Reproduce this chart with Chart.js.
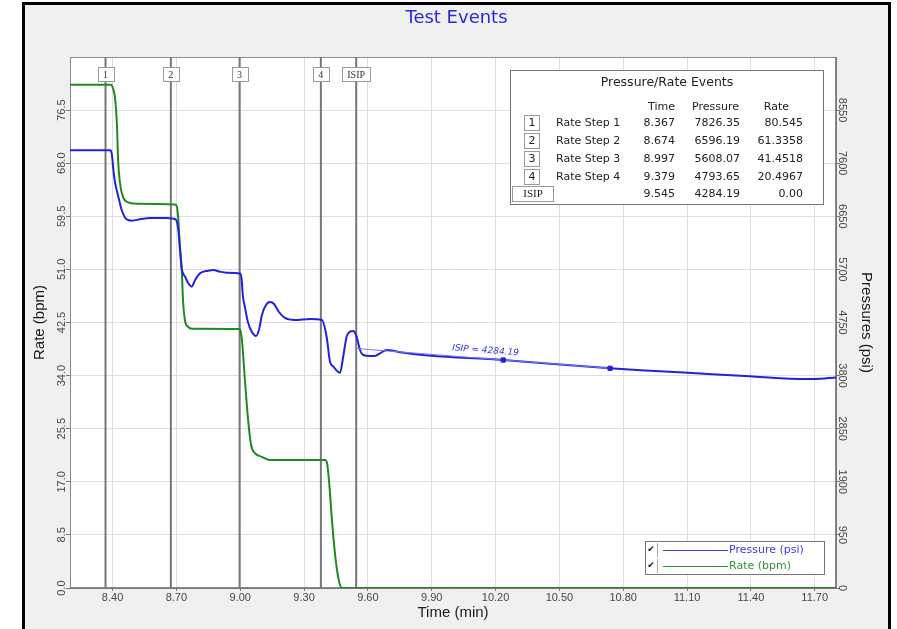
<!DOCTYPE html>
<html>
<head>
<meta charset="utf-8">
<script src="https://cdn.jsdelivr.net/npm/chart.js@4.4.0/dist/chart.umd.min.js"></script>
<style>
  html, body { margin: 0; padding: 0; background: #fff; overflow: hidden; }
  #frame { position: absolute; left: 22px; top: 2px; width: 863px; height: 700px; border: 3px solid #000; background: #f0f0f0; }
  #chart { position: absolute; left: 0; top: 0; }
</style>
</head>
<body>
<div id="frame"></div>
<canvas id="chart" width="897" height="629"></canvas>
<script>
// rate (bpm) trace
const rateTime = [8.200, 8.393, 8.402, 8.411, 8.421, 8.426, 8.435, 8.449, 8.468, 8.515,
  8.693, 8.703, 8.708, 8.717, 8.726, 8.731, 8.740, 8.755, 8.773, 8.999,
  9.008, 9.022, 9.037, 9.051, 9.069, 9.102, 9.140, 9.398, 9.408, 9.417,
  9.431, 9.445, 9.460, 9.478, 11.800];
const rateValue = [80.55, 80.55, 80.0, 78.6, 73.8, 68.5, 64.8, 62.6, 61.8, 61.5,
  61.4, 61.0, 59.4, 54.6, 50.4, 46.1, 42.9, 41.8, 41.5, 41.45,
  39.7, 33.3, 26.9, 22.9, 21.6, 21.0, 20.5, 20.5, 20.0, 17.3,
  10.9, 5.6, 1.8, 0, 0];

// pressure (psi) trace
const pressTime = [8.200, 8.390, 8.397, 8.404, 8.411, 8.427, 8.443, 8.466, 8.490, 8.529,
  8.576, 8.654, 8.686, 8.701, 8.709, 8.717, 8.725, 8.741, 8.756, 8.772,
  8.788, 8.811, 8.850, 8.874, 8.905, 8.936, 8.999, 9.007, 9.012, 9.022,
  9.036, 9.055, 9.074, 9.088, 9.102, 9.121, 9.140, 9.159, 9.182, 9.210,
  9.257, 9.328, 9.384, 9.406, 9.422, 9.438, 9.469, 9.484, 9.500, 9.516,
  9.531, 9.547, 9.563, 9.578, 9.610, 9.633, 9.657, 9.688, 9.719, 9.751,
  10.236, 10.738, 10.926, 11.161, 11.396, 11.584, 11.701, 11.800];
const pressValue = [7830, 7830, 7750, 7478, 7270, 7001, 6763, 6596, 6572, 6596,
  6620, 6620, 6607, 6572, 6405, 6047, 5720, 5570, 5451, 5391,
  5510, 5630, 5677, 5689, 5659, 5641, 5625, 5510, 5242, 5027,
  4759, 4580, 4509, 4616, 4884, 5063, 5117, 5081, 4938, 4831,
  4795, 4813, 4795, 4496, 4049, 3959, 3852, 4138, 4496, 4586,
  4598, 4496, 4258, 4169, 4151, 4151, 4199, 4258, 4246, 4217,
  4079, 3931, 3888, 3838, 3788, 3743, 3739, 3766];

// ISIP tangent line
const isipLineTime = [9.545, 10.236, 10.738];
const isipLinePress = [4284.19, 4079, 3931];

// events
const eventTag = ['1', '2', '3', '4', 'ISIP'];
const eventName = ['Rate Step 1', 'Rate Step 2', 'Rate Step 3', 'Rate Step 4', ''];
const eventTime = [8.367, 8.674, 8.997, 9.379, 9.545];
const eventPressure = [7826.35, 6596.19, 5608.07, 4793.65, 4284.19];
const eventRate = ['80.545', '61.3358', '41.4518', '20.4967', '0.00'];

// ticks
const timeTicks = [8.40, 8.70, 9.00, 9.30, 9.60, 9.90, 10.20, 10.50, 10.80, 11.10, 11.40, 11.70];
const rateTicks = [0, 8.5, 17, 25.5, 34, 42.5, 51, 59.5, 68, 76.5];
const pressTicks = [0, 950, 1900, 2850, 3800, 4750, 5700, 6650, 7600, 8550];

const BLUE = '#2222dd';
const GREEN = '#1f8a1f';
const tickFont = { family: 'Liberation Sans', size: 11 };
const titleFont = { family: 'Liberation Sans', size: 15 };

const toXY = (xs, ys) => xs.map((t, i) => ({ x: t, y: ys[i] }));

const extras = {
  id: 'extras',
  beforeDraw(chart) {
    const { ctx, chartArea: a } = chart;
    ctx.save();
    ctx.fillStyle = '#fff';
    ctx.fillRect(a.left, a.top, a.right - a.left, a.bottom - a.top);
    ctx.restore();
  },
  beforeDatasetsDraw(chart) {
    const { ctx, chartArea: a, scales: { x } } = chart;
    ctx.save();
    ctx.strokeStyle = '#8a8a8a';
    ctx.lineWidth = 1;
    ctx.strokeRect(a.left + 0.5, a.top + 0.5, a.right - a.left - 1, a.bottom - a.top - 1);
    ctx.strokeStyle = '#767676';
    ctx.lineWidth = 2;
    eventTime.forEach(t => {
      const px = x.getPixelForValue(t);
      ctx.beginPath();
      ctx.moveTo(px, a.top);
      ctx.lineTo(px, a.bottom);
      ctx.stroke();
    });
    ctx.restore();
  },
  afterDatasetsDraw(chart) {
    const { ctx, scales: { x, yP } } = chart;
    ctx.save();
    // event tags
    ctx.font = '10px "Liberation Serif"';
    ctx.textAlign = 'center';
    ctx.textBaseline = 'middle';
    eventTag.forEach((tag, i) => {
      const px = x.getPixelForValue(eventTime[i]);
      const w = tag.length > 1 ? 28 : 16;
      ctx.fillStyle = '#fff';
      ctx.fillRect(px - w / 2, 67, w, 15);
      ctx.strokeStyle = '#9a9a9a';
      ctx.lineWidth = 1;
      ctx.strokeRect(Math.round(px - w / 2) + 0.5, 67.5, w, 14);
      ctx.fillStyle = '#333';
      ctx.fillText(tag, px, 75);
    });
    // ISIP label along the tangent line
    const x1 = x.getPixelForValue(isipLineTime[0]), y1 = yP.getPixelForValue(isipLinePress[0]);
    const n = isipLineTime.length - 1;
    const x2 = x.getPixelForValue(isipLineTime[n]), y2 = yP.getPixelForValue(isipLinePress[n]);
    const ang = Math.atan2(y2 - y1, x2 - x1);
    const lx = x.getPixelForValue(10.15);
    const ly = y1 + (lx - x1) * Math.tan(ang);
    ctx.translate(lx + 8 * Math.sin(ang), ly - 8 * Math.cos(ang));
    ctx.rotate(ang);
    ctx.font = 'italic 9px "DejaVu Sans"';
    ctx.fillStyle = '#3434d4';
    ctx.fillText('ISIP = ' + eventPressure[4].toFixed(2), 0, 0);
    ctx.restore();
  },
  afterDraw(chart) {
    const { ctx } = chart;
    ctx.save();
    // events table
    ctx.fillStyle = '#fff';
    ctx.fillRect(510, 70, 313, 134);
    ctx.strokeStyle = '#777';
    ctx.lineWidth = 1;
    ctx.strokeRect(510.5, 70.5, 313, 134);
    ctx.fillStyle = '#222';
    ctx.textBaseline = 'middle';
    ctx.font = '12.5px "DejaVu Sans"';
    ctx.textAlign = 'center';
    ctx.fillText('Pressure/Rate Events', 667, 83);
    ctx.font = '11px "DejaVu Sans"';
    ctx.textAlign = 'right';
    ctx.fillText('Time', 675, 107);
    ctx.fillText('Pressure', 739, 107);
    ctx.fillText('Rate', 789, 107);
    const rowY = [123, 141, 159, 177, 194];
    eventTag.forEach((tag, i) => {
      const y = rowY[i];
      const bx = tag.length > 1 ? 512 : 524;
      const bw = tag.length > 1 ? 41 : 15;
      ctx.strokeStyle = '#999';
      ctx.strokeRect(bx + 0.5, y - 7.5, bw, 15);
      ctx.fillStyle = '#222';
      ctx.textAlign = 'center';
      ctx.font = tag.length > 1 ? '11px "Liberation Serif"' : '11px "DejaVu Sans"';
      ctx.fillText(tag, bx + bw / 2 + 0.5, y);
      ctx.font = '11px "DejaVu Sans"';
      ctx.textAlign = 'left';
      ctx.fillText(eventName[i], 556, y);
      ctx.textAlign = 'right';
      ctx.fillText(eventTime[i].toFixed(3), 675, y);
      ctx.fillText(eventPressure[i].toFixed(2), 740, y);
      ctx.fillText(eventRate[i], 803, y);
    });
    // legend
    ctx.fillStyle = '#fff';
    ctx.fillRect(645, 541, 179, 33);
    ctx.strokeStyle = '#777';
    ctx.strokeRect(645.5, 541.5, 179, 33);
    const legend = [['Pressure (psi)', '#3b3bdd', 550], ['Rate (bpm)', '#2b962b', 566]];
    legend.forEach(([label, color, y]) => {
      ctx.fillStyle = '#111';
      ctx.font = 'bold 9px "DejaVu Sans"';
      ctx.textAlign = 'center';
      ctx.fillText('\u2714', 651, y);
      ctx.strokeStyle = '#aaa';
      ctx.beginPath();
      ctx.moveTo(657.5, y - 7);
      ctx.lineTo(657.5, y + 7);
      ctx.stroke();
      ctx.strokeStyle = color;
      ctx.beginPath();
      ctx.moveTo(663, y + 0.5);
      ctx.lineTo(728, y + 0.5);
      ctx.stroke();
      ctx.fillStyle = color;
      ctx.font = '11px "DejaVu Sans"';
      ctx.textAlign = 'left';
      ctx.fillText(label, 729, y);
    });
    ctx.restore();
  }
};

new Chart(document.getElementById('chart'), {
  type: 'line',
  data: {
    datasets: [
      {
        label: 'Pressure (psi)', data: toXY(pressTime, pressValue), yAxisID: 'yP',
        borderColor: BLUE, borderWidth: 2, pointRadius: 0, cubicInterpolationMode: 'monotone', order: 1
      },
      {
        label: 'Rate (bpm)', data: toXY(rateTime, rateValue), yAxisID: 'y',
        borderColor: GREEN, borderWidth: 2, pointRadius: 0, cubicInterpolationMode: 'monotone', order: 2
      },
      {
        label: 'ISIP', data: toXY(isipLineTime, isipLinePress), yAxisID: 'yP',
        borderColor: '#7878ee', borderWidth: 1, pointRadius: [0, 3, 3], pointStyle: 'rect',
        pointBackgroundColor: BLUE, pointBorderColor: BLUE, order: 0
      }
    ]
  },
  options: {
    responsive: false,
    animation: false,
    devicePixelRatio: 1,
    layout: { padding: { left: 25, right: 9, top: 5, bottom: 0 } },
    plugins: {
      legend: { display: false },
      tooltip: { enabled: false },
      title: {
        display: true, text: 'Test Events', color: '#2a2ad8',
        font: { family: 'DejaVu Sans', size: 18, weight: 'normal' },
        padding: { top: 2.2, bottom: 28.2 }
      }
    },
    scales: {
      x: {
        type: 'linear', min: 8.2, max: 11.8,
        afterBuildTicks: s => { s.ticks = timeTicks.map(v => ({ value: v })); },
        afterFit: s => { s.height = 41; },
        grid: { color: '#dedede', tickLength: 3, tickColor: '#777' },
        border: { color: '#777' },
        ticks: { font: tickFont, color: '#474747', padding: 0.4, autoSkip: false, maxRotation: 0, callback: v => v.toFixed(2) },
        title: { display: true, text: 'Time (min)', color: '#1a1a1a', font: titleFont, padding: { top: 0, bottom: 7 } }
      },
      y: {
        type: 'linear', position: 'left', min: 0, max: 85,
        afterBuildTicks: s => { s.ticks = rateTicks.map(v => ({ value: v })); },
        afterFit: s => { s.width = 45; },
        grid: { color: '#dedede', tickLength: 4, tickColor: '#777' },
        border: { color: '#777' },
        ticks: { font: tickFont, color: '#474747', minRotation: 90, maxRotation: 90, crossAlign: 'center', padding: -7, autoSkip: false, callback: v => v.toFixed(1) },
        title: { display: true, text: 'Rate (bpm)', color: '#1a1a1a', font: titleFont, padding: { top: 6, bottom: 0 } }
      },
      yP: {
        type: 'linear', position: 'right', min: 0, max: 9500,
        afterBuildTicks: s => { s.ticks = pressTicks.map(v => ({ value: v })); },
        afterFit: s => { s.width = 52; },
        grid: { drawOnChartArea: false, tickLength: 4, tickColor: '#777' },
        border: { color: '#777' },
        ticks: { font: tickFont, color: '#474747', minRotation: -90, maxRotation: -90, crossAlign: 'center', padding: -10.2, autoSkip: false, callback: v => String(v) },
        title: { display: true, text: 'Pressures (psi)', color: '#1a1a1a', font: titleFont, padding: { top: 13, bottom: 0 } }
      }
    }
  },
  plugins: [extras]
});
</script>
</body>
</html>
